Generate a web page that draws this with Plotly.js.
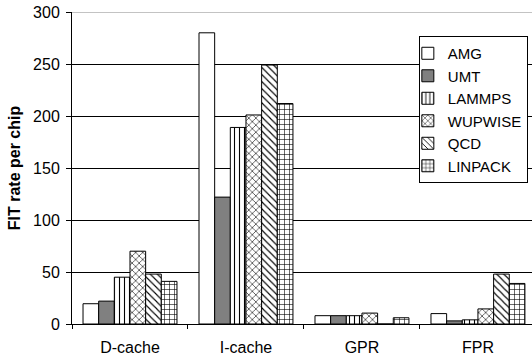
<!DOCTYPE html>
<html><head><meta charset="utf-8">
<script src="https://cdn.plot.ly/plotly-3.0.1.min.js"></script>
<style>body{margin:0;background:#fff}#c{width:532px;height:358px}</style>
</head><body><div id="c"></div>
<script>
const categories = ["D-cache", "I-cache", "GPR", "FPR"];
const seriesNames = ["AMG", "UMT", "LAMMPS", "WUPWISE", "QCD", "LINPACK"];
const AMG = [19.5, 280, 8, 10];
const UMT = [22, 122, 8, 3];
const LAMMPS = [45, 189, 8, 4];
const WUPWISE = [70, 201, 10.5, 14.5];
const QCD = [48, 249, 0, 48];
const LINPACK = [41, 212, 6, 39];
const yTicks = [0, 50, 100, 150, 200, 250, 300];

const values = [AMG, UMT, LAMMPS, WUPWISE, QCD, LINPACK];
const fills = ["#ffffff", "#808080", "#ffffff", "#ffffff", "#ffffff", "#ffffff"];
const shapes = ["", "", "|", "x", "\\", "+"];
const traces = seriesNames.map((n, i) => ({
  type: "bar", name: n, x: categories, y: values[i],
  marker: {color: fills[i], line: {color: "#000", width: 1},
    pattern: {shape: shapes[i], fgcolor: "#000", bgcolor: "#fff", size: 5, solidity: 0.22}}
}));
const layout = {
  width: 532, height: 358,
  margin: {l: 72, r: 0, t: 12, b: 34},
  paper_bgcolor: "#fff", plot_bgcolor: "#fff",
  font: {family: "Liberation Sans", size: 16, color: "#000"},
  barmode: "group", bargap: 0.19, bargroupgap: 0,
  showlegend: true,
  legend: {x: 0.754, y: 0.923, xanchor: "left", yanchor: "top", bgcolor: "#fff",
    bordercolor: "#000", borderwidth: 1, font: {size: 15}, itemwidth: 30,
    tracegroupgap: 0, indentation: -12},
  xaxis: {type: "category", range: [-0.5, 3.466], showline: true, linecolor: "#000",
    linewidth: 1, ticks: "outside", tickson: "boundaries", ticklen: 4,
    tickcolor: "#000", showgrid: false, tickfont: {size: 16}, ticklabelstandoff: 9},
  yaxis: {range: [0, 300], tickvals: yTicks, showline: true, linecolor: "#000",
    linewidth: 1, ticks: "outside", ticklen: 5, tickcolor: "#000", showgrid: true,
    gridcolor: "#000", gridwidth: 1, zeroline: false, tickfont: {size: 16},
    ticklabelstandoff: 3,
    title: {text: "<b>FIT rate per chip</b>", font: {size: 16}, standoff: 8}},
  shapes: [{type: "line", xref: "paper", yref: "y", x0: 0, x1: 1, y0: 300, y1: 300,
    line: {color: "#888", width: 1}}]
};
Plotly.newPlot("c", traces, layout, {displayModeBar: false, staticPlot: true});
</script></body></html>
